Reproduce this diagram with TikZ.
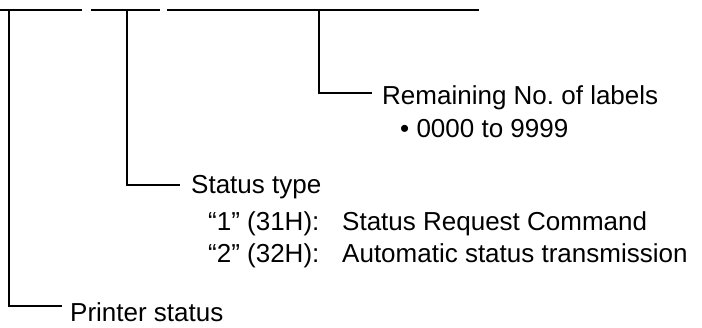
\documentclass[tikz,border=0pt]{standalone}
\usepackage{fontspec}
\setmainfont{Liberation Sans}
\frenchspacing
\begin{document}
\begin{tikzpicture}[x=1pt,y=-1pt,
  lbl/.style={anchor=base west,inner sep=0pt,font=\fontsize{26}{30}\selectfont},
  lead/.style={line width=1.2pt,draw=black}]
\useasboundingbox (0,0) rectangle (702,327);
% top field segments
\coordinate (s1a) at (0,10);   \coordinate (s1b) at (82,10);
\coordinate (s2a) at (91,10);  \coordinate (s2b) at (160,10);
\coordinate (s3a) at (167,10); \coordinate (s3b) at (479,10);
\draw[lead] (s1a) -- (s1b);
\draw[lead] (s2a) -- (s2b);
\draw[lead] (s3a) -- (s3b);
% texts
\node[lbl] (rem)  at (382,104) {Remaining No.\ of labels};
\node[lbl] (remv) at (400,137) {• 0000 to 9999};
\node[lbl] (st)   at (191,193) {Status type};
\node[lbl] (st1k) at (208,230) {“1” (31H):};
\node[lbl] (st1v) at (342,230) {Status Request Command};
\node[lbl] (st2k) at (208,262) {“2” (32H):};
\node[lbl] (st2v) at (342,262) {Automatic status transmission};
\node[lbl] (ps)   at (70,321)  {Printer status};
% leaders
\coordinate (l3top) at (319,10); \coordinate (l3end) at (372,93);
\coordinate (l2top) at (127,10); \coordinate (l2end) at (180,185);
\coordinate (l1top) at (9,10);   \coordinate (l1end) at (62,306);
\draw[lead] (l3top) |- (l3end);
\draw[lead] (l2top) |- (l2end);
\draw[lead] (l1top) |- (l1end);
\end{tikzpicture}
\end{document}
